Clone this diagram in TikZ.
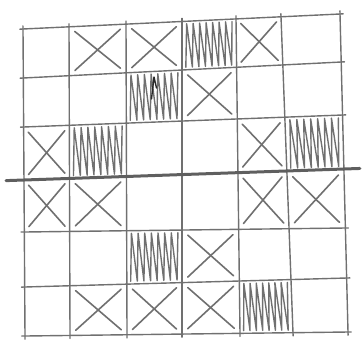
\documentclass[tikz,border=0pt]{standalone}
\usetikzlibrary{calc}
\definecolor{pen}{RGB}{112,112,112}
\definecolor{penthick}{RGB}{95,95,95}
\definecolor{ink}{RGB}{40,40,40}
\tikzset{
  gridline/.style={draw=pen,line width=1.4pt,line cap=round},
  boldline/.style={draw=penthick,line width=3pt,line cap=round},
  crossline/.style={draw=pen,line width=1.6pt,line cap=round},
  hatchline/.style={draw=pen,line width=1.4pt,line join=round,line cap=round},
}
\def\XT{{23,69,126,182,236,281,340}}
\def\XB{{25,70,127,182,240,293,348}}
\def\YL{{29,78,127,180,232,287,336}}
\def\YR{{14,62,115,169,228,278,332}}
\newcommand\cellcorners[2]{%
  \pgfmathtruncatemacro\ca{#1+1}\pgfmathtruncatemacro\ra{#2+1}%
  \coordinate (TL) at (p-#1-#2);
  \coordinate (TR) at (p-\ca-#2);
  \coordinate (BL) at (p-#1-\ra);
  \coordinate (BR) at (p-\ca-\ra);
}
\newcommand\mkX[2]{%
  \cellcorners{#1}{#2}
  \draw[crossline] ($(TL)!0.1!(BR)$) -- ($(BR)!0.1!(TL)$);
  \draw[crossline] ($(TR)!0.1!(BL)$) -- ($(BL)!0.1!(TR)$);
}
\newcommand\mkH[2]{%
  \cellcorners{#1}{#2}
  \draw[hatchline] ($ ($(TL)!0.07!(TR)$) ! 0.95 ! ($(BL)!0.07!(BR)$) $)
    \foreach \k [evaluate=\k as \f using {0.07+0.12*floor(\k/2)+0.016*mod(\k,2)},
                 evaluate=\k as \v using {0.95-0.9*mod(\k,2)}] in {1,...,15}
    { -- ($ ($(TL)!\f!(TR)$) ! \v ! ($(BL)!\f!(BR)$) $) };
}
\begin{document}
\begin{tikzpicture}[x=1pt,y=-1pt]
\useasboundingbox (0,0) rectangle (363,341);
% grid points
\foreach \i in {0,...,6}{
  \foreach \j in {0,...,6}{
    \pgfmathsetmacro\xt{\XT[\i]}
    \pgfmathsetmacro\xb{\XB[\i]}
    \pgfmathsetmacro\yl{\YL[\j]}
    \pgfmathsetmacro\yr{\YR[\j]}
    \pgfmathsetmacro\tt{(\yl-29)/307}
    \pgfmathsetmacro\ss{(\xt-23)/317}
    \pgfmathsetmacro\px{\xt+(\xb-\xt)*\tt}
    \pgfmathsetmacro\py{\yl+(\yr-\yl)*\ss}
    \coordinate (p-\i-\j) at (\px,\py);
  }
}
% column lines
\foreach \i in {0,...,6}{
  \draw[gridline] ($(p-\i-0)!-0.01!(p-\i-6)$) -- ($(p-\i-6)!-0.01!(p-\i-0)$);
}
% row lines
\foreach \j in {0,1,2,4,5,6}{
  \draw[gridline] ($(p-0-\j)!-0.01!(p-6-\j)$) -- ($(p-6-\j)!-0.01!(p-0-\j)$);
}
% thick middle line
\draw[boldline] ($(p-0-3)!-0.056!(p-6-3)$) -- ($(p-6-3)!-0.05!(p-0-3)$);
% crosses
\foreach \c/\r in {1/0,2/0,4/0,3/1,0/2,4/2,0/3,1/3,4/3,5/3,3/4,1/5,2/5,3/5}{
  \mkX{\c}{\r}
}
% hatched cells
\foreach \c/\r in {3/0,2/1,1/2,5/2,2/4,4/5}{
  \mkH{\c}{\r}
}
% small dark pen mark
\coordinate (m1) at (151.5,99);
\coordinate (m2) at (154,77);
\coordinate (m3) at (156.5,88);
\draw[draw=ink,line width=1.4pt,line cap=round,line join=round] (m1) -- (m2) -- (m3);
\end{tikzpicture}
\end{document}
